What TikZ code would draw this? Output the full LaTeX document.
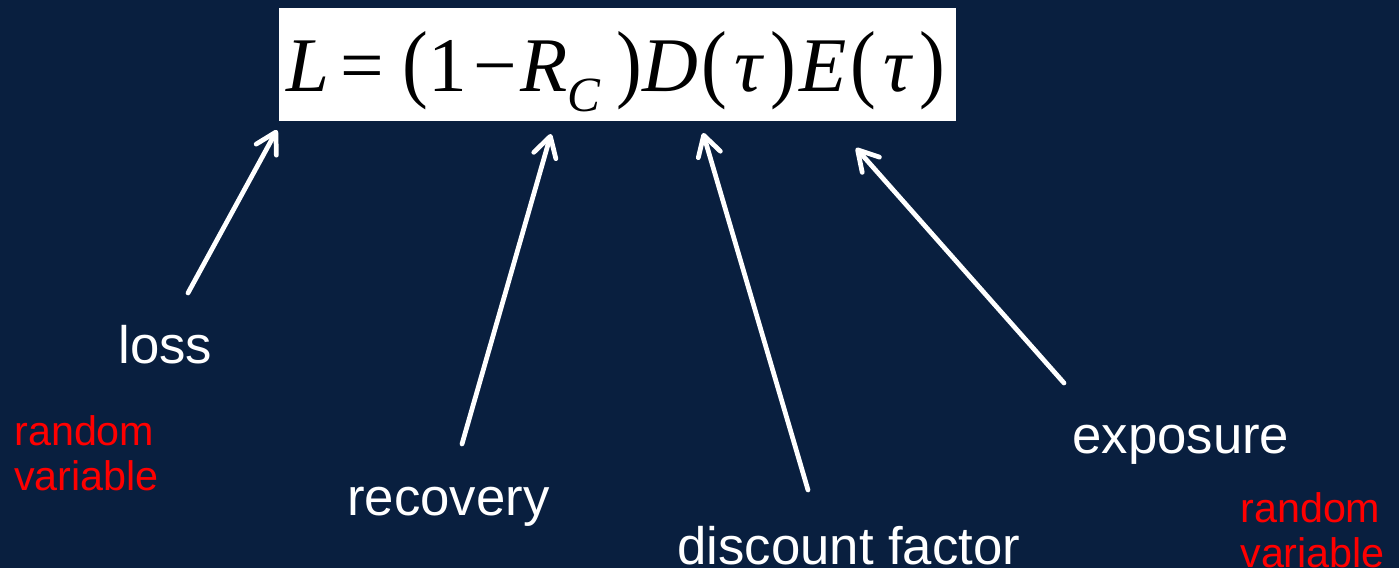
\documentclass[tikz,border=0pt]{standalone}
\usepackage{fontspec}
\setmainfont{Liberation Sans}
\newfontfamily\eqfont{Liberation Serif}
\usetikzlibrary{arrows.meta,positioning}
\definecolor{navy}{RGB}{9,31,63}
\newcommand{\tallp}[1]{\scalebox{1}[1.12]{#1}}

\begin{document}
\begin{tikzpicture}[>={Straight Barb[length=4mm,width=4.6mm,round]}]
  \tikzstyle{lbl}=[inner sep=0pt,anchor=base west,text=white,font=\fontsize{30}{36}\selectfont]
  \tikzstyle{rv}=[inner sep=0pt,anchor=base west,text=red,align=left,font=\fontsize{23.5}{25.5}\selectfont]
  \tikzstyle{ptr}=[draw=white,line width=2.7pt,line cap=round,->]
  \fill[navy] (0,0) rectangle (27.98,11.36);
  \useasboundingbox (0,0) rectangle (27.98,11.36);
  % formula box
  \node[fill=white,inner sep=0pt,minimum width=13.54cm,minimum height=2.26cm] (eq) at (12.35,10.07) {};
  \node[inner sep=0pt,anchor=base] (formula) at (12.32,9.54)
    {\eqfont\fontsize{44}{50}\selectfont\textit{L}\kern0.14em=\kern0.24em\tallp{(}1\kern0.08em−\kern0.05em\textit{R}\raisebox{-0.26em}{\fontsize{28}{28}\selectfont\textit{C}}\kern0.2em\tallp{)}\textit{D}\kern0.04em\tallp{(}\kern0.1em\textit{τ}\kern0.08em\tallp{)}\kern0.04em\textit{E}\kern0.04em\tallp{(}\kern0.1em\textit{τ}\kern0.08em\tallp{)}};
  % labels
  \node[lbl] (loss) at (2.36,4.10) {loss};
  \node[lbl] (recovery) at (6.94,1.06) {recovery};
  \node[lbl] (discount) at (13.54,0.08) {discount factor};
  \node[lbl] (exposure) at (21.44,2.30) {exposure};
  \node[rv] (rvloss) at (0.28,1.56) {random\\variable};
  \node[rv] (rvexp) at (24.80,0.02) {random\\variable};
  % arrow ends
  \coordinate (lossT) at (3.76,5.50);
  \coordinate (lossH) at (5.54,8.76);
  \coordinate (recT) at (9.24,2.48);
  \coordinate (recH) at (11.02,8.68);
  \coordinate (discT) at (16.16,1.56);
  \coordinate (discH) at (14.06,8.70);
  \coordinate (expT) at (21.28,3.70);
  \coordinate (expH) at (17.12,8.40);
  \draw[ptr] (lossT) -- (lossH);
  \draw[ptr] (recT) -- (recH);
  \draw[ptr] (discT) -- (discH);
  \draw[ptr] (expT) -- (expH);
\end{tikzpicture}
\end{document}
